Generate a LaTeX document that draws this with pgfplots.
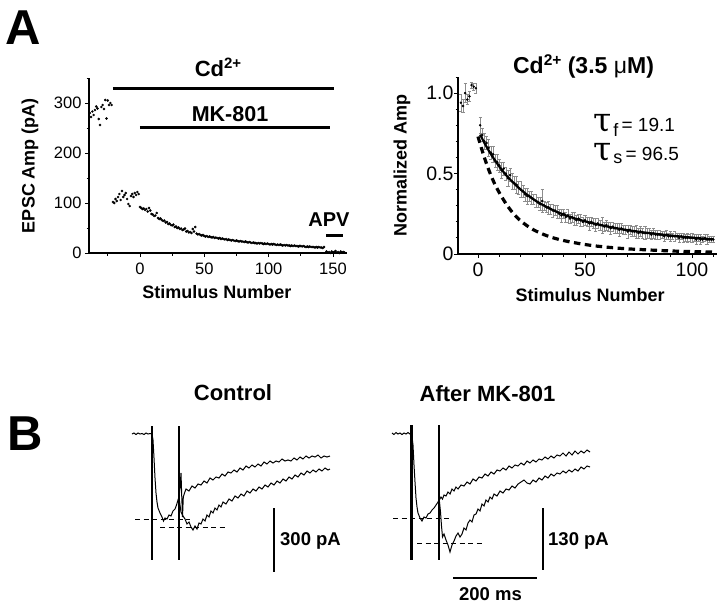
\documentclass[border=0pt]{standalone}
\usepackage{fontspec}
\setmainfont{Liberation Sans}
\newfontfamily\greekserif{DejaVu Serif}
\usepackage{pgfplots}
\pgfplotsset{compat=1.18}
\newcommand{\fs}[1]{\fontsize{#1}{#1}\selectfont}
\pgfplotsset{panel/.style={scale only axis, axis lines*=left,
  axis line style={line width=1.1pt}, tick align=outside,
  major tick length=4pt, minor tick length=2.5pt,
  tick style={line width=0.9pt, black},
  tick label style={font=\fs{16.5}},
  /pgf/number format/assume math mode=true,
  label style={font=\fs{18}\bfseries}, clip=false}}

\begin{document}
\begin{tikzpicture}
\useasboundingbox (0pt,0pt) rectangle (720pt,-606pt);

% ---------------- Panel A left ----------------
\begin{axis}[panel, at={(89pt,-253pt)}, anchor=south west,
  width=258pt, height=175pt,
  xmin=-39.6, xmax=160.9, ymin=0, ymax=350,
  xtick={0,50,100,150}, minor xtick={-25,25,75,125},
  ytick={0,100,200,300}, minor ytick={50,150,250,350},
  xticklabel style={yshift=-2pt},
  xlabel={Stimulus Number}, ylabel={EPSC Amp (pA)},
  xlabel style={at={(axis description cs:0.496,-0.223)}, anchor=center},
  ylabel style={at={(axis description cs:-0.229,0.5)}, anchor=center}]
\addplot[only marks, mark=*, mark size=1.05pt] coordinates {
(-39,280)(-38,272)(-37,283)(-36,276)(-35,286)(-34,293)(-33,289)(-32,268)(-31,256)(-30,292)
(-29,296)(-28,288)(-27,306)(-26,269)(-25,305)(-24,296)(-23,300)(-22,296)
(-21,102)(-20,100)(-19,108)(-18,104)(-17,112)(-16,118)(-15,106)(-14,124)(-13,112)(-12,116)
(-11,120)(-10,108)(-9,98)(-8,94)(-7,114)(-6,118)(-5,112)(-4,120)(-3,116)(-2,122)(-1,118)
(0,92)(1,90)(2,88)(3,89)(4,86)(5,88)(6,83)(7,90)(8,85)(9,78)(10,77)(11,74)(12,75)(13,80)
(14,70)(15,68)(16,69)(17,66)(18,64)(19,65)(20,61)(21,62)(22,58)(23,59)(24,56)(25,55)(26,57)
(27,52)(28,53)(29,50)(30,51)(31,48)(32,49)(33,46)(34,47)(35,49)(36,43)(37,44)(38,41)(39,42)
(40,40)(41,48)(42,43)(43,52)(44,39)(45,37)(46,38)(47,36)(48,35)(49,36)(50,34)(51,33)(52,34)
(53,32)(54,33)(55,32)(56,31)(57,32)(58,30)(59,31)(60,30)(61,29)(62,30)(63,28)(64,29)(65,28)
(66,27)(67,28)(68,26)(69,27)(70,26)(71,25)(72,26)(73,25)(74,24)(75,25)(76,24)(77,23)(78,24)
(79,23)(80,23)(81,22)(82,23)(83,22)(84,21)(85,22)(86,21)(87,20)(88,21)(89,20)(90,20)(91,19)
(92,20)(93,19)(94,20)(95,19)(96,18)(97,19)(98,18)(99,19)(100,18)(101,17)(102,18)(103,17)
(104,18)(105,17)(106,16)(107,17)(108,16)(109,17)(110,16)(111,15)(112,16)(113,15)(114,16)
(115,15)(116,15)(117,14)(118,15)(119,14)(120,15)(121,14)(122,14)(123,13)(124,14)(125,14)
(126,13)(127,14)(128,13)(129,12)(130,13)(131,12)(132,13)(133,12)(134,12)(135,12)(136,11)
(137,12)(138,11)(139,12)(140,11)(141,11)(142,10)(143,12)
(145,3)(146,1)(147,2)(148,0)(149,3)(150,1)(151,2)(152,4)(153,1)(154,2)(155,0)(156,3)(157,1)(158,2)(159,1)
};
\draw[line width=3pt] (axis cs:-21,330) -- (axis cs:150.8,330);
\draw[line width=3pt] (axis cs:0,252) -- (axis cs:147.7,252);
\draw[line width=3pt] (axis cs:144.6,36) -- (axis cs:157.8,36);
\end{axis}

% ---------------- Panel A right ----------------
\begin{axis}[panel, at={(458pt,-254pt)}, anchor=south west,
  width=259pt, height=177pt,
  xmin=-9.35, xmax=111.7, ymin=0, ymax=1.1,
  xtick={0,50,100}, minor xtick={10,20,30,40,60,70,80,90,110},
  ytick={0,0.5,1}, yticklabels={0,0.5,1.0},
  minor ytick={0.1,0.2,0.3,0.4,0.6,0.7,0.8,0.9,1.1},
  tick label style={font=\fs{19.5}},
  xticklabel style={yshift=-1pt},
  yticklabel style={xshift=3pt},
  xlabel={Stimulus Number}, ylabel={Normalized Amp},
  xlabel style={at={(axis description cs:0.51,-0.232)}, anchor=center},
  ylabel style={at={(axis description cs:-0.216,0.5)}, anchor=center}]
\addplot[only marks, mark=*, mark size=1.05pt,
  error bars/.cd, y dir=both, y explicit,
  error bar style={black!45, line width=0.55pt},
  error mark options={black!45, rotate=90, mark size=1.6pt, line width=0.55pt}]
coordinates {
(-8,0.94)+-(0,0.05) (-7,0.92)+-(0,0.04) (-6,1.0)+-(0,0.06) (-5,0.96)+-(0,0.03)
(-4,0.98)+-(0,0.03) (-3,1.05)+-(0,0.02) (-2,1.04)+-(0,0.02) (-1,1.03)+-(0,0.03)
(1,0.80)+-(0,0.05) (2,0.74)+-(0,0.04) (3,0.70)+-(0,0.05) (4,0.69)+-(0,0.04)
(5,0.66)+-(0,0.05) (6,0.63)+-(0,0.04) (7,0.62)+-(0,0.05) (8,0.58)+-(0,0.04)
(9,0.57)+-(0,0.05) (10,0.55)+-(0,0.04) (11,0.52)+-(0,0.05) (12,0.53)+-(0,0.04)
(13,0.50)+-(0,0.04) (14,0.47)+-(0,0.05) (15,0.49)+-(0,0.04) (16,0.45)+-(0,0.05)
(17,0.44)+-(0,0.04) (18,0.43)+-(0,0.05) (19,0.41)+-(0,0.04) (20,0.40)+-(0,0.05)
(21,0.39)+-(0,0.04) (22,0.37)+-(0,0.04) (23,0.36)+-(0,0.05) (24,0.36)+-(0,0.03)
(25,0.35)+-(0,0.04) (26,0.34)+-(0,0.03) (27,0.33)+-(0,0.04) (28,0.32)+-(0,0.03)
(29,0.31)+-(0,0.04) (30,0.33)+-(0,0.07) (31,0.30)+-(0,0.03) (32,0.29)+-(0,0.03)
(33,0.29)+-(0,0.04) (34,0.28)+-(0,0.03) (35,0.27)+-(0,0.04) (36,0.27)+-(0,0.03)
(37,0.26)+-(0,0.04) (38,0.25)+-(0,0.03) (39,0.24)+-(0,0.04) (40,0.25)+-(0,0.03)
(41,0.23)+-(0,0.03) (42,0.24)+-(0,0.04) (43,0.22)+-(0,0.03) (44,0.23)+-(0,0.03)
(45,0.22)+-(0,0.04) (46,0.21)+-(0,0.03) (47,0.22)+-(0,0.03) (48,0.21)+-(0,0.04)
(49,0.20)+-(0,0.03) (50,0.21)+-(0,0.03) (51,0.20)+-(0,0.03) (52,0.19)+-(0,0.04)
(53,0.20)+-(0,0.03) (54,0.19)+-(0,0.03) (55,0.18)+-(0,0.04) (56,0.19)+-(0,0.03)
(57,0.18)+-(0,0.03) (58,0.18)+-(0,0.05) (59,0.17)+-(0,0.03) (60,0.18)+-(0,0.03)
(61,0.17)+-(0,0.03) (62,0.16)+-(0,0.04) (63,0.17)+-(0,0.03) (64,0.16)+-(0,0.03)
(65,0.16)+-(0,0.03) (66,0.15)+-(0,0.04) (67,0.16)+-(0,0.03) (68,0.15)+-(0,0.03)
(69,0.15)+-(0,0.03) (70,0.14)+-(0,0.04) (71,0.15)+-(0,0.03) (72,0.14)+-(0,0.03)
(73,0.14)+-(0,0.03) (74,0.14)+-(0,0.04) (75,0.13)+-(0,0.03) (76,0.14)+-(0,0.03)
(77,0.13)+-(0,0.03) (78,0.13)+-(0,0.04) (79,0.13)+-(0,0.03) (80,0.13)+-(0,0.03)
(81,0.12)+-(0,0.03) (82,0.13)+-(0,0.03) (83,0.12)+-(0,0.03) (84,0.12)+-(0,0.03)
(85,0.12)+-(0,0.03) (86,0.12)+-(0,0.02) (87,0.11)+-(0,0.03) (88,0.12)+-(0,0.03)
(89,0.11)+-(0,0.02) (90,0.11)+-(0,0.03) (91,0.11)+-(0,0.02) (92,0.11)+-(0,0.03)
(93,0.11)+-(0,0.02) (94,0.10)+-(0,0.03) (95,0.11)+-(0,0.02) (96,0.10)+-(0,0.03)
(97,0.10)+-(0,0.02) (98,0.10)+-(0,0.03) (99,0.10)+-(0,0.02) (100,0.10)+-(0,0.03)
(101,0.10)+-(0,0.02) (102,0.09)+-(0,0.03) (103,0.10)+-(0,0.02) (104,0.09)+-(0,0.03)
(105,0.09)+-(0,0.02) (106,0.10)+-(0,0.02) (107,0.09)+-(0,0.03) (108,0.09)+-(0,0.02)
(109,0.09)+-(0,0.02) (110,0.09)+-(0,0.02)
};
\addplot[line width=2.2pt, smooth] coordinates {
(1,0.742)(3,0.690)(5,0.643)(7,0.600)(10,0.543)(13,0.492)(16,0.450)(20,0.400)(25,0.348)
(30,0.307)(35,0.273)(40,0.245)(45,0.222)(50,0.203)(60,0.172)(70,0.148)(80,0.130)
(90,0.115)(100,0.102)(110,0.091)};
\addplot[line width=3.2pt, dash pattern=on 6.5pt off 4.5pt, smooth] coordinates {
(0,0.73)(2,0.64)(4,0.56)(6,0.49)(8,0.43)(10,0.38)(12,0.335)(14,0.295)(16,0.26)(18,0.23)
(20,0.205)(23,0.175)(26,0.15)(30,0.125)(34,0.105)(38,0.09)(42,0.078)(46,0.068)(50,0.059)
(55,0.05)(60,0.043)(65,0.037)(70,0.032)(80,0.025)(90,0.019)(100,0.015)(110,0.012)};
\end{axis}

% ---------------- Panel B (coordinates in picture units) ----------------
\begin{axis}[at={(0pt,-606pt)}, anchor=south west, scale only axis,
  width=720pt, height=606pt, xmin=0, xmax=720, ymin=0, ymax=606,
  y dir=reverse, hide axis, clip=false]
% Control
\addplot[line width=1pt] coordinates {
(132,434)(134,433)(136,434.5)(138,433)(140,434)(142,433.5)(144,434.5)(146,433)(148,434)(150,433.5)(152,434)
(153,440)(154,458)(155,478)(156,493)(157,502)(158,508)(160,513)(162,517)(163.5,521)(165,518)
(167,519)(169,515)(171,516)(173,511)(175,509)(176.5,505)(178,500)(179,497)};
\addplot[line width=1pt] coordinates {
(179,497)(180,488)(181,473)(181.8,498)(182.5,517)(183.3,497)(184.5,493)(186,489)(189,491)(192,486)
(195,488)(198,484)(201,485)(204,481)(207,483)(210,478)(213,480)(216,477)(219,478)(222,474)
(225,476)(228,472)(231,473)(234,470)(237,472)(240,468)(243,470)(246,466)(249,468)(252,465)
(255,467)(258,464)(261,466)(264,462)(267,464)(270,461)(273,463)(276,461)(279,462)(282,459)
(285,461)(288,460)(291,461)(294,458)(297,460)(300,457)(303,459)(306,456)(309,458)(312,456)
(315,457)(318,455)(321,458)(324,456)(327,457)(330,456)};
\addplot[line width=1pt] coordinates {
(179,497)(180,505)(181,512)(183,516)(185,519)(187,524)(189,522)(191,527)(193,530)(195,526)
(197,529)(199,523)(201,524)(203,519)(205,521)(207,515)(209,517)(211,511)(213,513)(215,508)
(217,510)(219,505)(221,507)(223,502)(226,504)(229,499)(232,501)(235,496)(238,498)(241,494)
(244,496)(247,491)(250,493)(253,489)(256,491)(259,487)(262,489)(265,485)(268,487)(271,483)
(274,485)(277,481)(280,483)(283,479)(286,481)(289,477)(292,479)(295,475)(298,477)(301,473)
(304,475)(307,471)(310,473)(313,470)(316,472)(319,469)(322,471)(325,468)(328,470)(330,469)};
\addplot[line width=2.6pt] coordinates {(152,426)(152,560)};
\addplot[line width=1.8pt] coordinates {(179.3,426)(179.3,560)};
\addplot[line width=1pt, dash pattern=on 5pt off 3.5pt] coordinates {(135,519)(190,519)};
\addplot[line width=1pt, dash pattern=on 5pt off 3.5pt] coordinates {(160,527)(227,527)};
\addplot[line width=2pt] coordinates {(274,508)(274,572)};
% After MK-801
\addplot[line width=1pt] coordinates {
(392,433)(394,434.5)(396,432.5)(398,434)(400,433)(402,434.5)(404,433)(406,434)(408,432.5)(410,434)(411.7,434)
(413,445)(414,465)(415,482)(416,498)(417,507)(418,513)(420,518)(422,521)(424,517)(426,518)
(428,514)(430,513)(432,510)(434,508)(436,505)(438,502)(439.3,500)};
\addplot[line width=1pt] coordinates {
(439.3,500)(441,497)(442.5,499)(444,495)(446,496)(448,492)(450,494)(452,489)(454,491)(456,487)
(458,489)(461,485)(464,486)(467,482)(470,484)(473,479)(476,481)(479,477)(482,478)(485,474)
(488,476)(491,472)(494,474)(497,470)(500,471)(503,468)(506,470)(509,466)(512,468)(515,465)
(518,466)(521,463)(524,465)(527,461)(530,463)(533,460)(536,462)(539,459)(542,460)(545,457)
(548,459)(551,456)(554,458)(557,455)(560,456)(563,453)(566,456)(569,452)(572,455)(575,451)
(578,454)(581,451)(584,453)(587,450)(590,452)};
\addplot[line width=1pt] coordinates {
(439.3,500)(440.5,512)(441.5,526)(442.5,537)(444,534)(446,540)(448,545)(450,552)(452,545)(454,541)
(456,536)(458,533)(460,537)(462,534)(464,528)(466,530)(468,523)(470,520)(472,522)(474,515)
(476,514)(478,509)(480,511)(482,504)(484,506)(486,500)(488,502)(490,497)(492,499)(494,494)
(497,496)(500,491)(503,493)(506,489)(509,490)(512,486)(515,488)(518,484)(521,482)(524,480)
(527,483)(530,484)(533,480)(536,482)(539,478)(542,480)(545,476)(548,478)(551,474)(554,476)
(557,473)(560,474)(563,471)(566,473)(569,470)(572,472)(575,469)(578,471)(581,467)(584,469)
(587,466)(590,467)};
\addplot[line width=2.6pt] coordinates {(411.7,425)(411.7,560)};
\addplot[line width=1.8pt] coordinates {(439.3,425)(439.3,560)};
\addplot[line width=1pt, dash pattern=on 5pt off 3.5pt] coordinates {(393,518)(452,518)};
\addplot[line width=1pt, dash pattern=on 5pt off 3.5pt] coordinates {(417,543)(483,543)};
\addplot[line width=2pt] coordinates {(543,508)(543,570)};
\addplot[line width=2pt] coordinates {(453,578)(537,578)};
\end{axis}

% ---------------- Texts ----------------
\node[inner sep=0, font=\fs{49}\bfseries] at (23pt,-27.5pt) {A};
\node[inner sep=0, font=\fs{49}\bfseries] at (25pt,-434pt) {B};
\node[inner sep=0, anchor=base, font=\fs{22}\bfseries] at (218pt,-76pt) {Cd\raisebox{0.36em}{\fs{15}2+}};
\node[inner sep=0, anchor=base, font=\fs{21.5}\bfseries] at (230pt,-121.7pt) {MK-801};
\node[inner sep=0, anchor=base, font=\fs{20}\bfseries] at (329pt,-226.7pt) {APV};
\node[inner sep=0, anchor=base, font=\fs{23}\bfseries] at (583.5pt,-73.3pt)
  {Cd\raisebox{0.36em}{\fs{15.5}2+} (3.5 {\mdseries μ}M)};
\node[inner sep=0, anchor=base west] at (593pt,-131.7pt)
  {\vtop{\baselineskip=28.3pt\lineskiplimit=-100pt\lineskip=0pt
   \hbox{{\greekserif\fs{33}τ}\kern2pt\raisebox{-5pt}{\fs{18}f}\fs{19}\,= 19.1}
   \hbox{{\greekserif\fs{33}τ}\kern2pt\raisebox{-3pt}{\fs{18}s}\fs{19}\,= 96.5}}};
\node[inner sep=0, font=\fs{22}\bfseries] at (233pt,-393pt) {Control};
\node[inner sep=0, font=\fs{22}\bfseries] at (487.5pt,-394pt) {After MK-801};
\node[inner sep=0, anchor=base west, font=\fs{18.5}\bfseries] at (280pt,-545.7pt) {300 pA};
\node[inner sep=0, anchor=base west, font=\fs{18.5}\bfseries] at (548pt,-545.7pt) {130 pA};
\node[inner sep=0, anchor=base, font=\fs{18.5}\bfseries] at (490.5pt,-600.5pt) {200 ms};
\end{tikzpicture}
\end{document}
